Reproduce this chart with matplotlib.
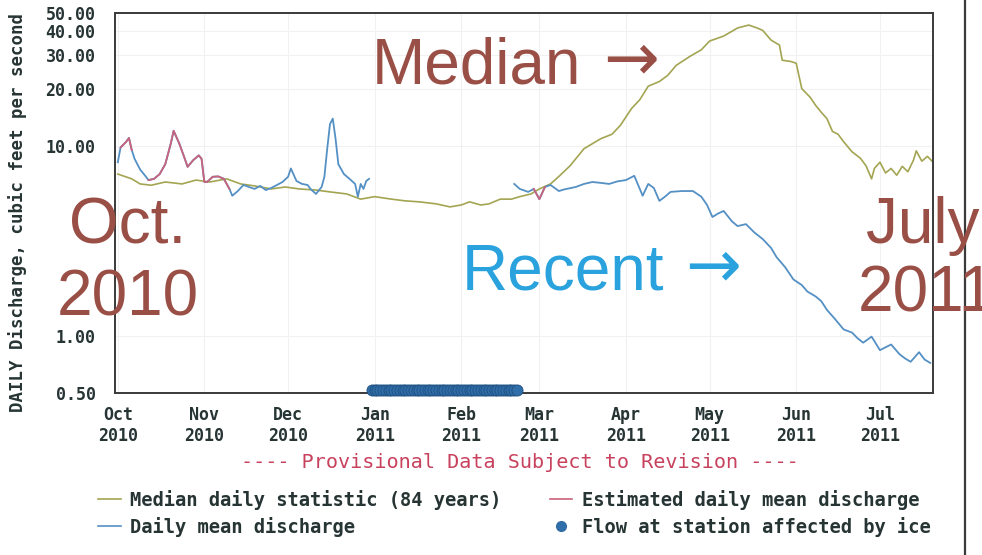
import numpy as np
import matplotlib
matplotlib.use('Agg')
import matplotlib.pyplot as plt
from matplotlib.lines import Line2D

# --- data (days counted from 1 Oct 2010, cfs) ---
median_day = [0, 5, 8, 12, 17, 23, 28, 33, 39, 44,
              49, 55, 60, 65, 71, 76, 82, 87, 92, 98,
              103, 108, 114, 119, 123, 126, 130, 133, 137, 141,
              144, 148, 151, 155, 158, 162, 167, 173, 177, 180,
              184, 187, 190, 194, 197, 200, 205, 209, 212, 217,
              222, 226, 229, 231, 234, 237, 238, 241, 243, 245,
              248, 250, 252, 254, 256, 258, 260, 263, 266, 268,
              270, 271, 273, 275, 277, 279, 281, 283, 285, 286,
              288, 290, 292]
median_cfs = [7.1, 6.7, 6.3, 6.2, 6.45, 6.3, 6.6, 6.45, 6.7, 6.3,
              6.15, 5.93, 6.07, 5.93, 5.85, 5.72, 5.58, 5.24, 5.40, 5.24,
              5.13, 5.07, 4.95, 4.77, 4.88, 5.07, 4.88, 4.95, 5.24, 5.24,
              5.40, 5.58, 5.93, 6.3, 6.9, 7.85, 9.66, 10.9, 11.5, 12.8,
              15.7, 17.5, 20.6, 21.8, 23.5, 26.5, 29.6, 32.0, 35.6, 37.8,
              41.7, 43.2, 41.7, 40.5, 36.0, 33.9, 28.2, 27.8, 27.2, 20.0,
              18.0, 16.3, 15.0, 13.9, 11.9, 11.5, 10.5, 9.3, 8.6, 7.85,
              6.7, 7.6, 8.2, 7.2, 7.6, 7.0, 7.8, 7.3, 8.4, 9.4,
              8.3, 8.8, 8.2]

recent_day = [0, 1, 3, 4, 5, 6, 8, 10, 11, 13,
              15, 17, 19, 20, 22, 24, 25, 27, 29, 30,
              31, 32, 34, 36, 38, 40, 41, 43, 45, 47,
              49, 51, 53, 55, 57, 59, 61, 62, 64, 66,
              68, 69, 71, 73, 74, 75, 76, 77, 78, 79,
              81, 83, 85, 86, 87, 88, 89, 90, 91, 142,
              144, 147, 149, 151, 153, 155, 158, 160, 164, 167,
              170, 173, 176, 179, 182, 185, 188, 190, 192, 194,
              196, 198, 202, 206, 209, 211, 213, 215, 217, 220,
              222, 225, 228, 231, 234, 236, 239, 242, 245, 247,
              250, 252, 254, 257, 260, 263, 265, 267, 270, 273,
              275, 277, 280, 282, 284, 287, 289, 291]
recent_cfs = [8.2, 9.8, 10.5, 11.0, 9.5, 8.55, 7.5, 6.9, 6.6, 6.7,
              7.1, 8.0, 10.3, 12.0, 10.3, 8.55, 7.75, 8.4, 8.9, 8.55,
              6.45, 6.45, 6.87, 6.9, 6.7, 5.93, 5.46, 5.78, 6.22, 6.07,
              5.93, 6.15, 5.85, 6.0, 6.22, 6.45, 6.87, 7.6, 6.53, 6.3,
              6.22, 5.93, 5.58, 6.07, 6.87, 9.6, 13.0, 13.9, 10.9, 8.0,
              7.1, 6.7, 6.3, 5.4, 6.3, 5.93, 6.53, 6.7, np.nan, 6.3,
              5.93, 5.72, 5.93, 5.24, 6.07, 6.22, 5.78, 5.9, 6.07, 6.3,
              6.45, 6.38, 6.3, 6.5, 6.6, 6.95, 5.46, 6.3, 6.0, 5.13,
              5.4, 5.72, 5.78, 5.78, 5.4, 4.9, 4.22, 4.4, 4.54, 4.0,
              3.78, 3.87, 3.5, 3.23, 2.9, 2.59, 2.3, 1.98, 1.85, 1.71,
              1.61, 1.52, 1.37, 1.22, 1.08, 1.04, 0.97, 0.92, 0.99, 0.84,
              0.87, 0.90, 0.80, 0.76, 0.73, 0.82, 0.75, 0.72]

# stretches flagged as estimated (first, last day)
estimated_ranges = [(1, 5), (11, 31), (32, 40), (149, 153)]

# ice affected period, drawn on the bottom of the plot
ice_start, ice_end = '2010-12-31', '2011-02-21'
ice_level = 0.52

month_labels = ['Oct\n2010', 'Nov\n2010', 'Dec\n2010', 'Jan\n2011', 'Feb\n2011',
                'Mar\n2011', 'Apr\n2011', 'May\n2011', 'Jun\n2011', 'Jul\n2011']
y_ticks = [0.5, 1, 10, 20, 30, 40, 50]
y_labels = ['0.50', '1.00', '10.00', '20.00', '30.00', '40.00', '50.00']

base = np.datetime64('2010-10-01')
med_dates = base + np.array(median_day).astype('timedelta64[D]')
rec_dates = base + np.array(recent_day).astype('timedelta64[D]')
rec_vals = np.array(recent_cfs, dtype=float)
rd = np.array(recent_day)
est_mask = np.zeros(len(rd), bool)
for a, b in estimated_ranges:
    est_mask |= (rd >= a) & (rd <= b)
est_vals = np.where(est_mask, rec_vals, np.nan)
ice_dates = np.arange(np.datetime64(ice_start), np.datetime64(ice_end) + 1)

mono = 'DejaVu Sans Mono'
dark = '#263433'
c_median = '#a3a552'
c_daily = '#5490c4'
c_est = '#c9627c'
c_ice = '#2f6ea8'
brown = '#9a4f46'
light_blue = '#2aa2dd'

fig = plt.figure(figsize=(9.82, 5.55), dpi=100)
ax = fig.add_axes([115/982, 1 - 393/555, 818/982, 380/555])

ax.plot(med_dates, median_cfs, color=c_median, lw=1.2)
ax.plot(rec_dates, rec_vals, color=c_daily, lw=1.3)
ax.plot(rec_dates, est_vals, color=c_est, lw=1.3)
ax.plot(ice_dates, [ice_level] * len(ice_dates), 'o', color=c_ice, ms=8,
        mec='#1f4f80', mew=0.6, clip_on=False, zorder=5)

ax.set_yscale('log')
ax.set_ylim(0.5, 50)
ax.set_xlim(base - np.timedelta64(1, 'D'), base + np.timedelta64(292, 'D'))
ax.set_yticks(y_ticks)
ax.set_yticklabels(y_labels)
ax.minorticks_off()
months = np.arange(np.datetime64('2010-10'), np.datetime64('2011-08'),
                   dtype='datetime64[M]').astype('datetime64[D]')
ax.set_xticks(months)
ax.set_xticklabels(month_labels, linespacing=1.25)
ax.tick_params(length=0, labelsize=12, labelcolor=dark)
ax.tick_params(axis='y', pad=14)
ax.tick_params(axis='x', pad=9)
for lab in ax.get_xticklabels() + ax.get_yticklabels():
    lab.set_family(mono)
    lab.set_weight('bold')
ax.grid(True, color='#f1f1f1', lw=0.8)
for s in ax.spines.values():
    s.set_color('#3a3a3a')
    s.set_linewidth(1.4)

fig.text(18/982, 1 - 212/555, 'DAILY Discharge, cubic feet per second',
         rotation=90, ha='center', va='center', family=mono,
         weight='bold', fontsize=12.5, color=dark)

fig.text(520/982, 1 - 462/555, '---- Provisional Data Subject to Revision ----',
         ha='center', va='center', family=mono, fontsize=14.5, color='#c8425e')

handles = [Line2D([], [], color=c_median, lw=1.2),
           Line2D([], [], color=c_daily, lw=1.2),
           Line2D([], [], color=c_est, lw=1.2),
           Line2D([], [], ls='none', marker='o', color=c_ice, ms=7)]
names = ['Median daily statistic (84 years)', 'Daily mean discharge',
         'Estimated daily mean discharge', 'Flow at station affected by ice']
leg = fig.legend(handles, names, ncol=2, loc='upper left',
                 bbox_to_anchor=(98/982, 1 - 490/555), frameon=False,
                 prop={'family': mono, 'weight': 'bold', 'size': 13.5},
                 handlelength=1.2, handletextpad=0.5, columnspacing=2.6,
                 labelspacing=0.35, borderpad=0, borderaxespad=0)
for t in leg.get_texts():
    t.set_color(dark)

# big hand-added annotations
sans = ['Liberation Sans', 'DejaVu Sans']
arrow_font = ['DejaVu Sans']
big = dict(family=sans, fontsize=46, va='baseline', ha='left')
fig.text(372/982, 1 - 83/555, 'Median', color=brown, **big)
fig.text(603/982, 1 - 60/555, '\u2192', color=brown, family=arrow_font,
         fontsize=48, ha='left', va='center')
fig.text(462/982, 1 - 290/555, 'Recent', color=light_blue, **big)
fig.text(685/982, 1 - 267/555, '\u2192', color=light_blue, family=arrow_font,
         fontsize=48, ha='left', va='center')
fig.text(128/982, 1 - 243/555, 'Oct.', color=brown, ha='center',
         va='baseline', family=sans, fontsize=46)
fig.text(128/982, 1 - 315/555, '2010', color=brown, ha='center',
         va='baseline', family=sans, fontsize=46)
fig.text(866/982, 1 - 243/555, 'July', color=brown, **big)
fig.text(858/982, 1 - 312/555, '2011', color=brown, **big)

fig.add_artist(Line2D([965/982, 965/982], [0, 1], color='#3a3a3a', lw=1.6))

fig.savefig('out.png', dpi=100, facecolor='white')
